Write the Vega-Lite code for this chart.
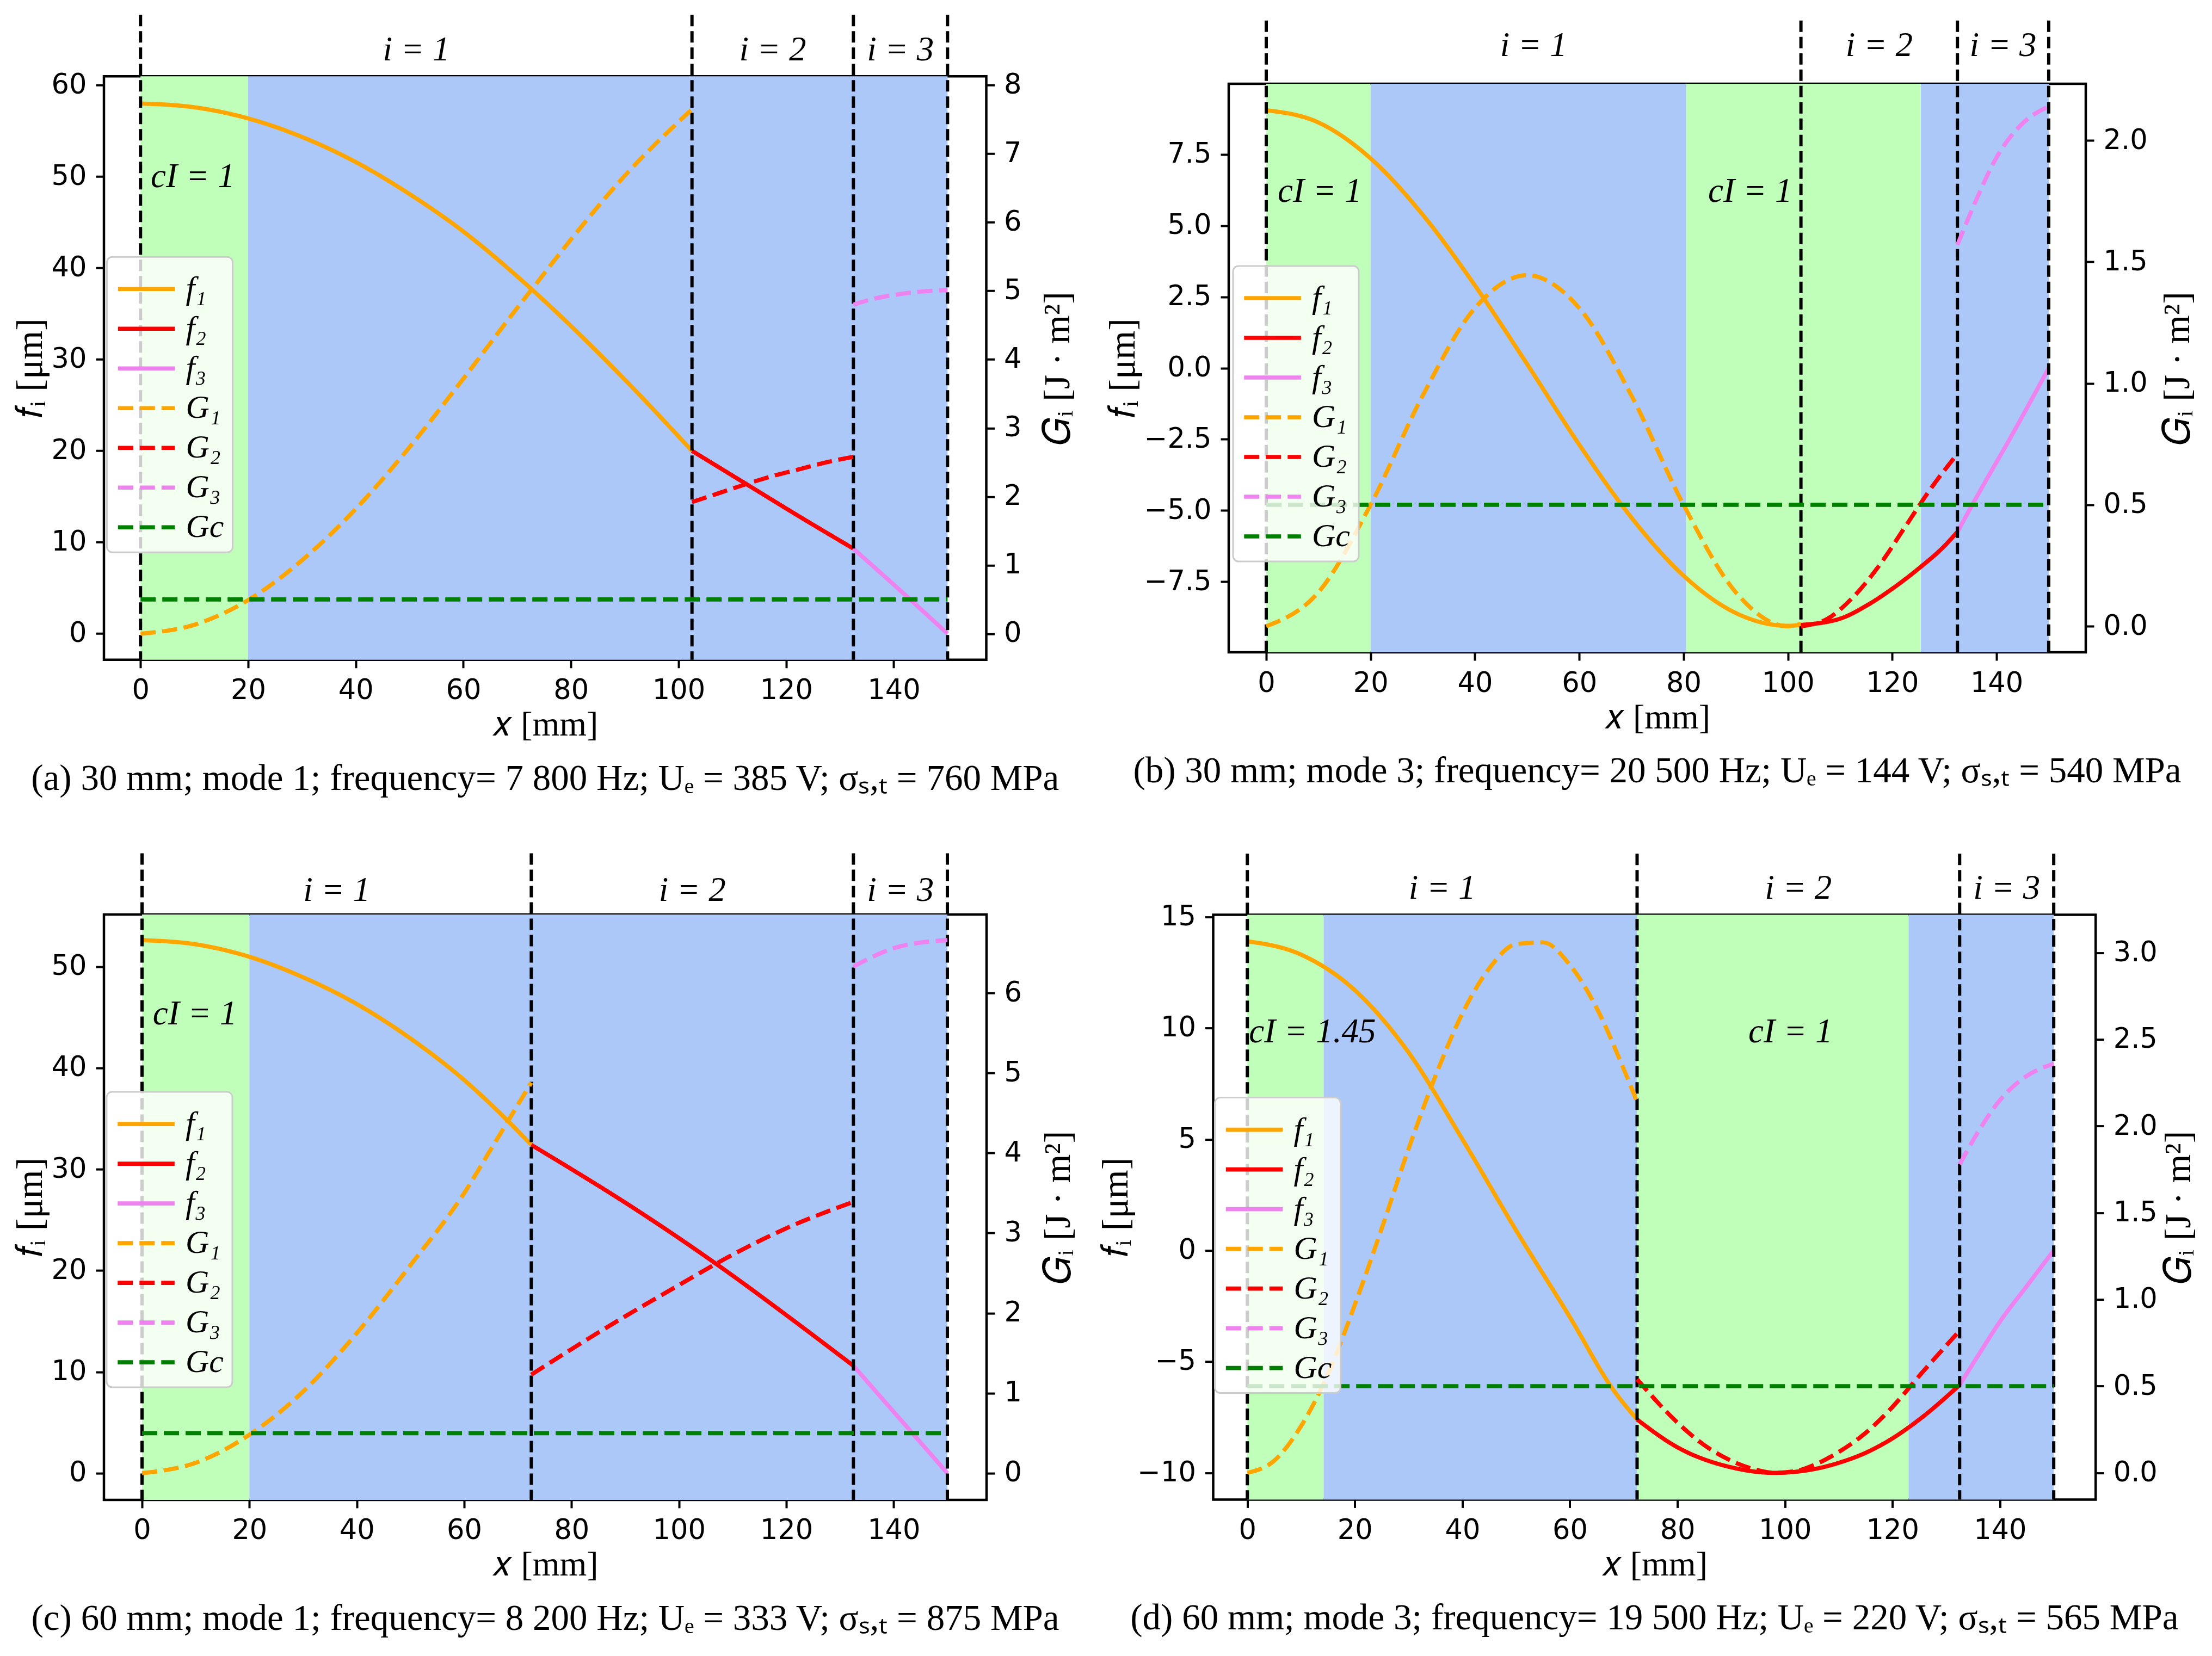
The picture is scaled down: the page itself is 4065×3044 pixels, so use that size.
{
 "$schema": "https://vega.github.io/schema/vega-lite/v6.json",
 "background": "white",
 "autosize": {"type": "pad"},
 "padding": {"left": 19, "top": 22, "right": 10, "bottom": 10},
 "datasets": {
  "a_zones": [{"x0": 0, "x1": 20, "z": "g"}, {"x0": 20, "x1": 150, "z": "b"}],
  "a_bounds": [{"x": 0}, {"x": 102.5}, {"x": 132.5}, {"x": 150}],
  "a_top": [{"x": 51.25, "t": "i = 1"}, {"x": 117.5, "t": "i = 2"}, {"x": 141.25, "t": "i = 3"}],
  "a_ci": [{"x": 1.9, "f": 50, "t": "cI = 1"}],
  "a_f": [
   {"x": 0, "f": 58.0, "s": "f₁"}, {"x": 10, "f": 57.59, "s": "f₁"}, {"x": 20, "f": 56.37, "s": "f₁"}, {"x": 30, "f": 54.35, "s": "f₁"}, {"x": 40, "f": 51.6, "s": "f₁"}, {"x": 50, "f": 48.1, "s": "f₁"}, {"x": 60, "f": 44.0, "s": "f₁"}, {"x": 70, "f": 39.1, "s": "f₁"}, {"x": 80, "f": 33.66, "s": "f₁"}, {"x": 90, "f": 27.8, "s": "f₁"}, {"x": 102.5, "f": 20.0, "s": "f₁"},
   {"x": 102.5, "f": 20.0, "s": "f₂"}, {"x": 112.5, "f": 16.4, "s": "f₂"}, {"x": 122.5, "f": 12.8, "s": "f₂"}, {"x": 132.5, "f": 9.3, "s": "f₂"},
   {"x": 132.5, "f": 9.3, "s": "f₃"}, {"x": 141.25, "f": 4.7, "s": "f₃"}, {"x": 150, "f": 0, "s": "f₃"}
  ],
  "a_G": [
   {"x": 0, "G": 0, "s": "G₁"}, {"x": 10, "G": 0.13, "s": "G₁"}, {"x": 20, "G": 0.49, "s": "G₁"}, {"x": 30, "G": 1.07, "s": "G₁"}, {"x": 40, "G": 1.82, "s": "G₁"}, {"x": 50, "G": 2.72, "s": "G₁"}, {"x": 60, "G": 3.72, "s": "G₁"}, {"x": 70, "G": 4.75, "s": "G₁"}, {"x": 72.5, "G": 5.0, "s": "G₁"}, {"x": 80, "G": 5.75, "s": "G₁"}, {"x": 90, "G": 6.68, "s": "G₁"}, {"x": 102.5, "G": 7.65, "s": "G₁"},
   {"x": 102.5, "G": 1.92, "s": "G₂"}, {"x": 107.5, "G": 2.05, "s": "G₂"}, {"x": 112.5, "G": 2.18, "s": "G₂"}, {"x": 117.5, "G": 2.3, "s": "G₂"}, {"x": 122.5, "G": 2.4, "s": "G₂"}, {"x": 127.5, "G": 2.5, "s": "G₂"}, {"x": 132.5, "G": 2.58, "s": "G₂"},
   {"x": 132.5, "G": 4.8, "s": "G₃"}, {"x": 136, "G": 4.88, "s": "G₃"}, {"x": 140, "G": 4.94, "s": "G₃"}, {"x": 145, "G": 4.99, "s": "G₃"}, {"x": 150, "G": 5.01, "s": "G₃"},
   {"x": 0, "G": 0.5, "s": "Gc"}, {"x": 150, "G": 0.5, "s": "Gc"}
  ],
  "b_zones": [{"x0": 0, "x1": 20, "z": "g"}, {"x0": 20, "x1": 80.5, "z": "b"}, {"x0": 80.5, "x1": 125.5, "z": "g"}, {"x0": 125.5, "x1": 150, "z": "b"}],
  "b_bounds": [{"x": 0}, {"x": 102.5}, {"x": 132.5}, {"x": 150}],
  "b_top": [{"x": 51.25, "t": "i = 1"}, {"x": 117.5, "t": "i = 2"}, {"x": 141.25, "t": "i = 3"}],
  "b_ci": [{"x": 2.2, "f": 6.2, "t": "cI = 1"}, {"x": 84.7, "f": 6.2, "t": "cI = 1"}],
  "b_f": [
   {"x": 0, "f": 9.05, "s": "f₁"}, {"x": 10, "f": 8.62, "s": "f₁"}, {"x": 20, "f": 7.36, "s": "f₁"}, {"x": 30, "f": 5.38, "s": "f₁"}, {"x": 40, "f": 2.9, "s": "f₁"}, {"x": 50, "f": 0.14, "s": "f₁"}, {"x": 60, "f": -2.69, "s": "f₁"}, {"x": 70, "f": -5.25, "s": "f₁"}, {"x": 80, "f": -7.29, "s": "f₁"}, {"x": 90, "f": -8.6, "s": "f₁"}, {"x": 100, "f": -9.05, "s": "f₁"}, {"x": 102.5, "f": -9.02, "s": "f₁"},
   {"x": 102.5, "f": -9.02, "s": "f₂"}, {"x": 110, "f": -8.8, "s": "f₂"}, {"x": 115, "f": -8.35, "s": "f₂"}, {"x": 120, "f": -7.75, "s": "f₂"}, {"x": 125, "f": -7.05, "s": "f₂"}, {"x": 130, "f": -6.25, "s": "f₂"}, {"x": 132.5, "f": -5.75, "s": "f₂"},
   {"x": 132.5, "f": -5.75, "s": "f₃"}, {"x": 137.5, "f": -4.1, "s": "f₃"}, {"x": 142.5, "f": -2.5, "s": "f₃"}, {"x": 150, "f": 0, "s": "f₃"}
  ],
  "b_G": [
   {"x": 0, "G": 0, "s": "G₁"}, {"x": 10, "G": 0.14, "s": "G₁"}, {"x": 20, "G": 0.5, "s": "G₁"}, {"x": 30, "G": 0.95, "s": "G₁"}, {"x": 40, "G": 1.31, "s": "G₁"}, {"x": 50, "G": 1.445, "s": "G₁"}, {"x": 60, "G": 1.31, "s": "G₁"}, {"x": 70, "G": 0.95, "s": "G₁"}, {"x": 80, "G": 0.5, "s": "G₁"}, {"x": 90, "G": 0.14, "s": "G₁"}, {"x": 100, "G": 0.0, "s": "G₁"}, {"x": 102.5, "G": 0.01, "s": "G₁"},
   {"x": 102.5, "G": 0.0, "s": "G₂"}, {"x": 107.5, "G": 0.03, "s": "G₂"}, {"x": 112.5, "G": 0.12, "s": "G₂"}, {"x": 117.5, "G": 0.25, "s": "G₂"}, {"x": 122.5, "G": 0.41, "s": "G₂"}, {"x": 127.5, "G": 0.57, "s": "G₂"}, {"x": 132.5, "G": 0.71, "s": "G₂"},
   {"x": 132.5, "G": 1.57, "s": "G₃"}, {"x": 136, "G": 1.75, "s": "G₃"}, {"x": 140, "G": 1.93, "s": "G₃"}, {"x": 145, "G": 2.07, "s": "G₃"}, {"x": 150, "G": 2.14, "s": "G₃"},
   {"x": 0, "G": 0.5, "s": "Gc"}, {"x": 150, "G": 0.5, "s": "Gc"}
  ],
  "c_zones": [{"x0": 0, "x1": 20, "z": "g"}, {"x0": 20, "x1": 150, "z": "b"}],
  "c_bounds": [{"x": 0}, {"x": 72.5}, {"x": 132.5}, {"x": 150}],
  "c_top": [{"x": 36.25, "t": "i = 1"}, {"x": 102.5, "t": "i = 2"}, {"x": 141.25, "t": "i = 3"}],
  "c_ci": [{"x": 2.0, "f": 45.3, "t": "cI = 1"}],
  "c_f": [
   {"x": 0, "f": 52.6, "s": "f₁"}, {"x": 10, "f": 52.19, "s": "f₁"}, {"x": 20, "f": 50.96, "s": "f₁"}, {"x": 30, "f": 48.94, "s": "f₁"}, {"x": 40, "f": 46.3, "s": "f₁"}, {"x": 50, "f": 42.9, "s": "f₁"}, {"x": 60, "f": 38.8, "s": "f₁"}, {"x": 67.5, "f": 35.1, "s": "f₁"}, {"x": 72.5, "f": 32.4, "s": "f₁"},
   {"x": 72.5, "f": 32.4, "s": "f₂"}, {"x": 80, "f": 30.0, "s": "f₂"}, {"x": 90, "f": 26.7, "s": "f₂"}, {"x": 100, "f": 23.2, "s": "f₂"}, {"x": 110, "f": 19.5, "s": "f₂"}, {"x": 120, "f": 15.6, "s": "f₂"}, {"x": 132.5, "f": 10.6, "s": "f₂"},
   {"x": 132.5, "f": 10.6, "s": "f₃"}, {"x": 141.25, "f": 5.3, "s": "f₃"}, {"x": 150, "f": 0, "s": "f₃"}
  ],
  "c_G": [
   {"x": 0, "G": 0, "s": "G₁"}, {"x": 10, "G": 0.13, "s": "G₁"}, {"x": 20, "G": 0.48, "s": "G₁"}, {"x": 30, "G": 1.02, "s": "G₁"}, {"x": 40, "G": 1.75, "s": "G₁"}, {"x": 50, "G": 2.6, "s": "G₁"}, {"x": 60, "G": 3.5, "s": "G₁"}, {"x": 65, "G": 4.05, "s": "G₁"}, {"x": 72.5, "G": 4.88, "s": "G₁"},
   {"x": 72.5, "G": 1.23, "s": "G₂"}, {"x": 80, "G": 1.55, "s": "G₂"}, {"x": 90, "G": 1.96, "s": "G₂"}, {"x": 100, "G": 2.35, "s": "G₂"}, {"x": 110, "G": 2.73, "s": "G₂"}, {"x": 120, "G": 3.06, "s": "G₂"}, {"x": 132.5, "G": 3.39, "s": "G₂"},
   {"x": 132.5, "G": 6.33, "s": "G₃"}, {"x": 136, "G": 6.45, "s": "G₃"}, {"x": 140, "G": 6.56, "s": "G₃"}, {"x": 145, "G": 6.63, "s": "G₃"}, {"x": 150, "G": 6.66, "s": "G₃"},
   {"x": 0, "G": 0.5, "s": "Gc"}, {"x": 150, "G": 0.5, "s": "Gc"}
  ],
  "d_zones": [{"x0": 0, "x1": 14.2, "z": "g"}, {"x0": 14.2, "x1": 72.5, "z": "b"}, {"x0": 72.5, "x1": 123, "z": "g"}, {"x0": 123, "x1": 150, "z": "b"}],
  "d_bounds": [{"x": 0}, {"x": 72.5}, {"x": 132.5}, {"x": 150}],
  "d_top": [{"x": 36.25, "t": "i = 1"}, {"x": 102.5, "t": "i = 2"}, {"x": 141.25, "t": "i = 3"}],
  "d_ci": [{"x": 0.3, "f": 9.83, "t": "cI = 1.45"}, {"x": 93.2, "f": 9.83, "t": "cI = 1"}],
  "d_f": [
   {"x": 0, "f": 13.9, "s": "f₁"}, {"x": 10, "f": 13.3, "s": "f₁"}, {"x": 20, "f": 11.7, "s": "f₁"}, {"x": 30, "f": 8.9, "s": "f₁"}, {"x": 40, "f": 5.0, "s": "f₁"}, {"x": 50, "f": 0.9, "s": "f₁"}, {"x": 60, "f": -3.0, "s": "f₁"}, {"x": 68, "f": -6.24, "s": "f₁"}, {"x": 72.5, "f": -7.6, "s": "f₁"},
   {"x": 72.5, "f": -7.6, "s": "f₂"}, {"x": 80, "f": -8.85, "s": "f₂"}, {"x": 90, "f": -9.75, "s": "f₂"}, {"x": 98, "f": -10.0, "s": "f₂"}, {"x": 105, "f": -9.85, "s": "f₂"}, {"x": 110, "f": -9.55, "s": "f₂"}, {"x": 115, "f": -9.1, "s": "f₂"}, {"x": 120, "f": -8.45, "s": "f₂"}, {"x": 125, "f": -7.6, "s": "f₂"}, {"x": 132.5, "f": -6.05, "s": "f₂"},
   {"x": 132.5, "f": -6.05, "s": "f₃"}, {"x": 136, "f": -4.7, "s": "f₃"}, {"x": 140, "f": -3.2, "s": "f₃"}, {"x": 145, "f": -1.6, "s": "f₃"}, {"x": 150, "f": 0, "s": "f₃"}
  ],
  "d_G": [
   {"x": 0, "G": 0, "s": "G₁"}, {"x": 5, "G": 0.07, "s": "G₁"}, {"x": 10, "G": 0.27, "s": "G₁"}, {"x": 15, "G": 0.57, "s": "G₁"}, {"x": 20, "G": 0.97, "s": "G₁"}, {"x": 25, "G": 1.41, "s": "G₁"}, {"x": 30, "G": 1.87, "s": "G₁"}, {"x": 35, "G": 2.29, "s": "G₁"}, {"x": 40, "G": 2.65, "s": "G₁"}, {"x": 45, "G": 2.91, "s": "G₁"}, {"x": 50, "G": 3.05, "s": "G₁"}, {"x": 55, "G": 3.06, "s": "G₁"}, {"x": 60, "G": 2.93, "s": "G₁"}, {"x": 65, "G": 2.68, "s": "G₁"}, {"x": 70, "G": 2.33, "s": "G₁"}, {"x": 72.5, "G": 2.14, "s": "G₁"},
   {"x": 72.5, "G": 0.54, "s": "G₂"}, {"x": 80, "G": 0.29, "s": "G₂"}, {"x": 85, "G": 0.16, "s": "G₂"}, {"x": 90, "G": 0.07, "s": "G₂"}, {"x": 95, "G": 0.015, "s": "G₂"}, {"x": 98, "G": 0.0, "s": "G₂"}, {"x": 102, "G": 0.01, "s": "G₂"}, {"x": 105, "G": 0.04, "s": "G₂"}, {"x": 110, "G": 0.12, "s": "G₂"}, {"x": 115, "G": 0.23, "s": "G₂"}, {"x": 120, "G": 0.38, "s": "G₂"}, {"x": 125, "G": 0.56, "s": "G₂"}, {"x": 132.5, "G": 0.82, "s": "G₂"},
   {"x": 132.5, "G": 1.78, "s": "G₃"}, {"x": 136, "G": 1.97, "s": "G₃"}, {"x": 140, "G": 2.15, "s": "G₃"}, {"x": 145, "G": 2.29, "s": "G₃"}, {"x": 150, "G": 2.36, "s": "G₃"},
   {"x": 0, "G": 0.5, "s": "Gc"}, {"x": 150, "G": 0.5, "s": "Gc"}
  ]
 },
 "spacing": 96,
 "bounds": "full",
 "resolve": {"scale": {"color": "independent", "strokeDash": "independent", "fill": "independent"}, "legend": {"color": "independent", "strokeDash": "independent"}},
 "vconcat": [
  {
   "spacing": 445,
   "bounds": "flush",
   "center": true,
   "resolve": {"scale": {"color": "independent", "strokeDash": "independent", "fill": "independent"}, "legend": {"color": "independent", "strokeDash": "independent"}},
   "hconcat": [
    {
     "width": 1621.5, "height": 1072.5,
     "title": {"text": "(a) 30 mm; mode 1; frequency= 7 800 Hz; Uₑ = 385 V; σₛ,ₜ = 760 MPa", "orient": "bottom"},
     "resolve": {"scale": {"y": "independent"}},
     "layer": [
      {"layer": [
       {"data": {"name": "a_zones"}, "mark": {"type": "rect"}, "encoding": {"x": {"field": "x0", "type": "quantitative", "scale": {"domain": [-6.8, 157.2], "nice": false, "zero": false}, "title": "𝑥 [mm]"}, "x2": {"field": "x1"}, "fill": {"field": "z", "type": "nominal", "scale": {"domain": ["g", "b"], "range": ["#c0ffba", "#abc8f9"]}, "legend": null}}},
       {"data": {"name": "a_f"}, "mark": {"type": "line", "strokeWidth": 7.7, "interpolate": "monotone"}, "encoding": {
        "x": {"field": "x", "type": "quantitative", "scale": {"domain": [-6.8, 157.2], "nice": false, "zero": false}, "title": "𝑥 [mm]", "axis": {"values": [0, 20, 40, 60, 80, 100, 120, 140]}},
        "y": {"field": "f", "type": "quantitative", "scale": {"domain": [-2.86, 60.98], "nice": false, "zero": false}, "title": "𝑓ᵢ [μm]", "axis": {"values": [0, 10, 20, 30, 40, 50, 60]}},
        "color": {"field": "s", "type": "nominal", "scale": {"domain": ["f₁", "f₂", "f₃", "G₁", "G₂", "G₃", "Gc"], "range": ["#ffa500", "#ff0000", "#ee82ee", "#ffa500", "#ff0000", "#ee82ee", "#008000"]}, "legend": {"orient": "none", "legendX": 5.5, "legendY": 332, "title": null}},
        "strokeDash": {"field": "s", "type": "nominal", "scale": {"domain": ["f₁", "f₂", "f₃", "G₁", "G₂", "G₃", "Gc"], "range": [[1, 0], [1, 0], [1, 0], [28, 12], [28, 12], [28, 12], [28, 12]]}, "legend": {"orient": "none", "legendX": 5.5, "legendY": 332, "title": null}}}},
       {"data": {"name": "a_bounds"}, "mark": {"type": "rule", "color": "black", "strokeWidth": 6, "strokeDash": [21, 9], "clip": false}, "encoding": {"x": {"field": "x", "type": "quantitative"}, "y": {"datum": 67.7}, "y2": {"datum": -2.86}}},
       {"data": {"name": "a_top"}, "mark": {"type": "text", "clip": false, "baseline": "middle"}, "encoding": {"x": {"field": "x", "type": "quantitative"}, "y": {"datum": 63.87}, "text": {"field": "t"}}},
       {"data": {"name": "a_ci"}, "mark": {"type": "text", "clip": false, "baseline": "middle", "align": "left"}, "encoding": {"x": {"field": "x", "type": "quantitative"}, "y": {"field": "f", "type": "quantitative"}, "text": {"field": "t"}}}
      ]},
      {"data": {"name": "a_G"}, "mark": {"type": "line", "strokeWidth": 7.7, "interpolate": "monotone"}, "encoding": {
       "x": {"field": "x", "type": "quantitative"},
       "y": {"field": "G", "type": "quantitative", "scale": {"domain": [-0.38, 8.13], "nice": false, "zero": false}, "title": "𝐺ᵢ [J · m²]", "axis": {"orient": "right", "titleAngle": 270, "titleBaseline": "top", "titlePadding": 34, "values": [0, 1, 2, 3, 4, 5, 6, 7, 8]}},
       "color": {"field": "s", "type": "nominal", "scale": {"domain": ["f₁", "f₂", "f₃", "G₁", "G₂", "G₃", "Gc"], "range": ["#ffa500", "#ff0000", "#ee82ee", "#ffa500", "#ff0000", "#ee82ee", "#008000"]}, "legend": {"orient": "none", "legendX": 5.5, "legendY": 332, "title": null}},
       "strokeDash": {"field": "s", "type": "nominal", "scale": {"domain": ["f₁", "f₂", "f₃", "G₁", "G₂", "G₃", "Gc"], "range": [[1, 0], [1, 0], [1, 0], [28, 12], [28, 12], [28, 12], [28, 12]]}, "legend": {"orient": "none", "legendX": 5.5, "legendY": 332, "title": null}}}}
     ]
    },
    {
     "width": 1575, "height": 1045,
     "title": {"text": "(b) 30 mm; mode 3; frequency= 20 500 Hz; Uₑ = 144 V; σₛ,ₜ = 540 MPa", "orient": "bottom"},
     "resolve": {"scale": {"y": "independent"}},
     "layer": [
      {"layer": [
       {"data": {"name": "b_zones"}, "mark": {"type": "rect"}, "encoding": {"x": {"field": "x0", "type": "quantitative", "scale": {"domain": [-7.2, 157.1], "nice": false, "zero": false}, "title": "𝑥 [mm]"}, "x2": {"field": "x1"}, "fill": {"field": "z", "type": "nominal", "scale": {"domain": ["g", "b"], "range": ["#c0ffba", "#abc8f9"]}, "legend": null}}},
       {"data": {"name": "b_f"}, "mark": {"type": "line", "strokeWidth": 7.7, "interpolate": "monotone"}, "encoding": {
        "x": {"field": "x", "type": "quantitative", "scale": {"domain": [-7.2, 157.1], "nice": false, "zero": false}, "title": "𝑥 [mm]", "axis": {"values": [0, 20, 40, 60, 80, 100, 120, 140]}},
        "y": {"field": "f", "type": "quantitative", "scale": {"domain": [-9.98, 9.98], "nice": false, "zero": false}, "title": "𝑓ᵢ [μm]", "axis": {"values": [-7.5, -5, -2.5, 0, 2.5, 5, 7.5], "format": ".1f", "labelExpr": "replace(datum.label, '-', '−')"}},
        "color": {"field": "s", "type": "nominal", "scale": {"domain": ["f₁", "f₂", "f₃", "G₁", "G₂", "G₃", "Gc"], "range": ["#ffa500", "#ff0000", "#ee82ee", "#ffa500", "#ff0000", "#ee82ee", "#008000"]}, "legend": {"orient": "none", "legendX": 8, "legendY": 335, "title": null}},
        "strokeDash": {"field": "s", "type": "nominal", "scale": {"domain": ["f₁", "f₂", "f₃", "G₁", "G₂", "G₃", "Gc"], "range": [[1, 0], [1, 0], [1, 0], [28, 12], [28, 12], [28, 12], [28, 12]]}, "legend": {"orient": "none", "legendX": 8, "legendY": 335, "title": null}}}},
       {"data": {"name": "b_bounds"}, "mark": {"type": "rule", "color": "black", "strokeWidth": 6, "strokeDash": [21, 9], "clip": false}, "encoding": {"x": {"field": "x", "type": "quantitative"}, "y": {"datum": 12.2}, "y2": {"datum": -9.98}}},
       {"data": {"name": "b_top"}, "mark": {"type": "text", "clip": false, "baseline": "middle"}, "encoding": {"x": {"field": "x", "type": "quantitative"}, "y": {"datum": 11.32}, "text": {"field": "t"}}},
       {"data": {"name": "b_ci"}, "mark": {"type": "text", "clip": false, "baseline": "middle", "align": "left"}, "encoding": {"x": {"field": "x", "type": "quantitative"}, "y": {"field": "f", "type": "quantitative"}, "text": {"field": "t"}}}
      ]},
      {"data": {"name": "b_G"}, "mark": {"type": "line", "strokeWidth": 7.7, "interpolate": "monotone"}, "encoding": {
       "x": {"field": "x", "type": "quantitative"},
       "y": {"field": "G", "type": "quantitative", "scale": {"domain": [-0.107, 2.233], "nice": false, "zero": false}, "title": "𝐺ᵢ [J · m²]", "axis": {"orient": "right", "titleAngle": 270, "titleBaseline": "top", "titlePadding": 22, "values": [0, 0.5, 1, 1.5, 2], "format": ".1f"}},
       "color": {"field": "s", "type": "nominal", "scale": {"domain": ["f₁", "f₂", "f₃", "G₁", "G₂", "G₃", "Gc"], "range": ["#ffa500", "#ff0000", "#ee82ee", "#ffa500", "#ff0000", "#ee82ee", "#008000"]}, "legend": {"orient": "none", "legendX": 8, "legendY": 335, "title": null}},
       "strokeDash": {"field": "s", "type": "nominal", "scale": {"domain": ["f₁", "f₂", "f₃", "G₁", "G₂", "G₃", "Gc"], "range": [[1, 0], [1, 0], [1, 0], [28, 12], [28, 12], [28, 12], [28, 12]]}, "legend": {"orient": "none", "legendX": 8, "legendY": 335, "title": null}}}}
     ]
    }
   ]
  },
  {
   "spacing": 416.5,
   "bounds": "flush",
   "center": true,
   "resolve": {"scale": {"color": "independent", "strokeDash": "independent", "fill": "independent"}, "legend": {"color": "independent", "strokeDash": "independent"}},
   "hconcat": [
    {
     "width": 1622, "height": 1075.8,
     "title": {"text": "(c) 60 mm; mode 1; frequency= 8 200 Hz; Uₑ = 333 V; σₛ,ₜ = 875 MPa", "orient": "bottom"},
     "resolve": {"scale": {"y": "independent"}},
     "layer": [
      {"layer": [
       {"data": {"name": "c_zones"}, "mark": {"type": "rect"}, "encoding": {"x": {"field": "x0", "type": "quantitative", "scale": {"domain": [-7.1, 157.3], "nice": false, "zero": false}, "title": "𝑥 [mm]"}, "x2": {"field": "x1"}, "fill": {"field": "z", "type": "nominal", "scale": {"domain": ["g", "b"], "range": ["#c0ffba", "#abc8f9"]}, "legend": null}}},
       {"data": {"name": "c_f"}, "mark": {"type": "line", "strokeWidth": 7.7, "interpolate": "monotone"}, "encoding": {
        "x": {"field": "x", "type": "quantitative", "scale": {"domain": [-7.1, 157.3], "nice": false, "zero": false}, "title": "𝑥 [mm]", "axis": {"values": [0, 20, 40, 60, 80, 100, 120, 140]}},
        "y": {"field": "f", "type": "quantitative", "scale": {"domain": [-2.63, 55.13], "nice": false, "zero": false}, "title": "𝑓ᵢ [μm]", "axis": {"values": [0, 10, 20, 30, 40, 50]}},
        "color": {"field": "s", "type": "nominal", "scale": {"domain": ["f₁", "f₂", "f₃", "G₁", "G₂", "G₃", "Gc"], "range": ["#ffa500", "#ff0000", "#ee82ee", "#ffa500", "#ff0000", "#ee82ee", "#008000"]}, "legend": {"orient": "none", "legendX": 5, "legendY": 326, "title": null}},
        "strokeDash": {"field": "s", "type": "nominal", "scale": {"domain": ["f₁", "f₂", "f₃", "G₁", "G₂", "G₃", "Gc"], "range": [[1, 0], [1, 0], [1, 0], [28, 12], [28, 12], [28, 12], [28, 12]]}, "legend": {"orient": "none", "legendX": 5, "legendY": 326, "title": null}}}},
       {"data": {"name": "c_bounds"}, "mark": {"type": "rule", "color": "black", "strokeWidth": 6, "strokeDash": [21, 9], "clip": false}, "encoding": {"x": {"field": "x", "type": "quantitative"}, "y": {"datum": 61.17}, "y2": {"datum": -2.63}}},
       {"data": {"name": "c_top"}, "mark": {"type": "text", "clip": false, "baseline": "middle"}, "encoding": {"x": {"field": "x", "type": "quantitative"}, "y": {"datum": 57.5}, "text": {"field": "t"}}},
       {"data": {"name": "c_ci"}, "mark": {"type": "text", "clip": false, "baseline": "middle", "align": "left"}, "encoding": {"x": {"field": "x", "type": "quantitative"}, "y": {"field": "f", "type": "quantitative"}, "text": {"field": "t"}}}
      ]},
      {"data": {"name": "c_G"}, "mark": {"type": "line", "strokeWidth": 7.7, "interpolate": "monotone"}, "encoding": {
       "x": {"field": "x", "type": "quantitative"},
       "y": {"field": "G", "type": "quantitative", "scale": {"domain": [-0.333, 6.98], "nice": false, "zero": false}, "title": "𝐺ᵢ [J · m²]", "axis": {"orient": "right", "titleAngle": 270, "titleBaseline": "top", "titlePadding": 34, "values": [0, 1, 2, 3, 4, 5, 6]}},
       "color": {"field": "s", "type": "nominal", "scale": {"domain": ["f₁", "f₂", "f₃", "G₁", "G₂", "G₃", "Gc"], "range": ["#ffa500", "#ff0000", "#ee82ee", "#ffa500", "#ff0000", "#ee82ee", "#008000"]}, "legend": {"orient": "none", "legendX": 5, "legendY": 326, "title": null}},
       "strokeDash": {"field": "s", "type": "nominal", "scale": {"domain": ["f₁", "f₂", "f₃", "G₁", "G₂", "G₃", "Gc"], "range": [[1, 0], [1, 0], [1, 0], [28, 12], [28, 12], [28, 12], [28, 12]]}, "legend": {"orient": "none", "legendX": 5, "legendY": 326, "title": null}}}}
     ]
    },
    {
     "width": 1621.7, "height": 1074.8,
     "title": {"text": "(d) 60 mm; mode 3; frequency= 19 500 Hz; Uₑ = 220 V; σₛ,ₜ = 565 MPa", "orient": "bottom"},
     "resolve": {"scale": {"y": "independent"}},
     "layer": [
      {"layer": [
       {"data": {"name": "d_zones"}, "mark": {"type": "rect"}, "encoding": {"x": {"field": "x0", "type": "quantitative", "scale": {"domain": [-6.35, 157.8], "nice": false, "zero": false}, "title": "𝑥 [mm]"}, "x2": {"field": "x1"}, "fill": {"field": "z", "type": "nominal", "scale": {"domain": ["g", "b"], "range": ["#c0ffba", "#abc8f9"]}, "legend": null}}},
       {"data": {"name": "d_f"}, "mark": {"type": "line", "strokeWidth": 7.7, "interpolate": "monotone"}, "encoding": {
        "x": {"field": "x", "type": "quantitative", "scale": {"domain": [-6.35, 157.8], "nice": false, "zero": false}, "title": "𝑥 [mm]", "axis": {"values": [0, 20, 40, 60, 80, 100, 120, 140]}},
        "y": {"field": "f", "type": "quantitative", "scale": {"domain": [-11.2, 15.09], "nice": false, "zero": false}, "title": "𝑓ᵢ [μm]", "axis": {"values": [-10, -5, 0, 5, 10, 15], "labelExpr": "replace(datum.label, '-', '−')"}},
        "color": {"field": "s", "type": "nominal", "scale": {"domain": ["f₁", "f₂", "f₃", "G₁", "G₂", "G₃", "Gc"], "range": ["#ffa500", "#ff0000", "#ee82ee", "#ffa500", "#ff0000", "#ee82ee", "#008000"]}, "legend": {"orient": "none", "legendX": 3, "legendY": 336, "title": null}},
        "strokeDash": {"field": "s", "type": "nominal", "scale": {"domain": ["f₁", "f₂", "f₃", "G₁", "G₂", "G₃", "Gc"], "range": [[1, 0], [1, 0], [1, 0], [28, 12], [28, 12], [28, 12], [28, 12]]}, "legend": {"orient": "none", "legendX": 3, "legendY": 336, "title": null}}}},
       {"data": {"name": "d_bounds"}, "mark": {"type": "rule", "color": "black", "strokeWidth": 6, "strokeDash": [21, 9], "clip": false}, "encoding": {"x": {"field": "x", "type": "quantitative"}, "y": {"datum": 17.84}, "y2": {"datum": -11.2}}},
       {"data": {"name": "d_top"}, "mark": {"type": "text", "clip": false, "baseline": "middle"}, "encoding": {"x": {"field": "x", "type": "quantitative"}, "y": {"datum": 16.28}, "text": {"field": "t"}}},
       {"data": {"name": "d_ci"}, "mark": {"type": "text", "clip": false, "baseline": "middle", "align": "left"}, "encoding": {"x": {"field": "x", "type": "quantitative"}, "y": {"field": "f", "type": "quantitative"}, "text": {"field": "t"}}}
      ]},
      {"data": {"name": "d_G"}, "mark": {"type": "line", "strokeWidth": 7.7, "interpolate": "monotone"}, "encoding": {
       "x": {"field": "x", "type": "quantitative"},
       "y": {"field": "G", "type": "quantitative", "scale": {"domain": [-0.154, 3.219], "nice": false, "zero": false}, "title": "𝐺ᵢ [J · m²]", "axis": {"orient": "right", "titleAngle": 270, "titleBaseline": "top", "titlePadding": 6, "values": [0, 0.5, 1, 1.5, 2, 2.5, 3], "format": ".1f"}},
       "color": {"field": "s", "type": "nominal", "scale": {"domain": ["f₁", "f₂", "f₃", "G₁", "G₂", "G₃", "Gc"], "range": ["#ffa500", "#ff0000", "#ee82ee", "#ffa500", "#ff0000", "#ee82ee", "#008000"]}, "legend": {"orient": "none", "legendX": 3, "legendY": 336, "title": null}},
       "strokeDash": {"field": "s", "type": "nominal", "scale": {"domain": ["f₁", "f₂", "f₃", "G₁", "G₂", "G₃", "Gc"], "range": [[1, 0], [1, 0], [1, 0], [28, 12], [28, 12], [28, 12], [28, 12]]}, "legend": {"orient": "none", "legendX": 3, "legendY": 336, "title": null}}}}
     ]
    }
   ]
  }
 ],
 "config": {
  "view": {"stroke": "black", "strokeWidth": 4.5},
  "axis": {"grid": false, "domain": false, "tickColor": "black", "tickSize": 15, "tickWidth": 4, "labelFont": "DejaVu Sans", "labelFontSize": 51, "labelColor": "black", "labelPadding": 17, "labelFlush": false, "labelOverlap": false, "titleFont": "Liberation Serif", "titleFontSize": 68, "titleFontWeight": "normal", "titleColor": "black", "titlePadding": 4},
  "axisX": {"titleFontSize": 64, "titlePadding": 6},
  "legend": {"symbolType": "M-1,0L1.7,0", "symbolStrokeWidth": 7.7, "symbolSize": 6000, "labelFont": "Liberation Serif", "labelFontSize": 60, "labelFontStyle": "italic", "labelColor": "black", "rowPadding": 0, "padding": 16, "strokeColor": "#cccccc", "strokeWidth": 3, "fillColor": "rgba(255,255,255,0.8)", "cornerRadius": 10, "labelOffset": 43, "labelLimit": 0},
  "title": {"font": "Liberation Serif", "fontSize": 67, "fontWeight": "normal", "color": "black", "offset": 34},
  "text": {"font": "Liberation Serif", "fontStyle": "italic", "fontSize": 63, "color": "black"}
 }
}
